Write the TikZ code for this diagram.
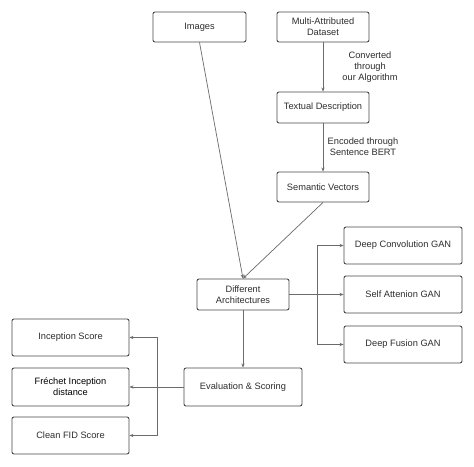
\documentclass[tikz,border=0pt]{standalone}
\usepackage{fontspec}
\setmainfont{Liberation Sans}
\usetikzlibrary{arrows.meta}
\begin{document}
\begin{tikzpicture}[x=1bp,y=-1bp,
 box/.style={draw=black!72, line width=0.9bp, rounded corners=2bp, align=center,
   font=\fontsize{9.3}{11}\selectfont, text=black!82, inner sep=0pt},
 conn/.style={draw=black!58, line width=0.7bp, -{Stealth[length=4bp,width=3.2bp]}},
 lbl/.style={font=\fontsize{9.3}{11}\selectfont, align=center, text=black!82}]
\useasboundingbox (0,0) rectangle (474,467);
\fill[white] (0,0) rectangle (474,467);
% top column
\node[box, minimum width=93bp, minimum height=30bp] (img) at (199.5,27) {Images};
\node[box, minimum width=92bp, minimum height=30bp] (ds) at (323,27) {Multi-Attributed\\Dataset};
\node[box, minimum width=92bp, minimum height=31bp] (txt) at (323,107.5) {Textual Description};
\node[box, minimum width=92bp, minimum height=30bp] (sem) at (323,187) {Semantic Vectors};
\node[box, minimum width=92bp, minimum height=31bp] (da) at (243,294.5) {Different\\Architectures};
% GANs
\node[box, minimum width=118bp, minimum height=37bp] (dc) at (403,245.5) {Deep Convolution GAN};
\node[box, minimum width=118bp, minimum height=37bp] (sa) at (403,294.5) {Self Attenion GAN};
\node[box, minimum width=118bp, minimum height=37bp] (df) at (403,344.5) {Deep Fusion GAN};
% evaluation
\node[box, minimum width=118bp, minimum height=38bp] (ev) at (243,387) {Evaluation \& Scoring};
\node[box, minimum width=117bp, minimum height=37bp] (is) at (70.5,337.5) {Inception Score};
\node[box, minimum width=117bp, minimum height=38bp, text=black] (fid) at (70.5,387) {Fréchet Inception\\distance};
\node[box, minimum width=117bp, minimum height=37bp] (cf) at (70.5,435.5) {Clean FID Score};
% labels
\node[lbl] (l1) at (370,67) {Converted\\through\\our Algorithm};
\node[lbl] (l2) at (363,146.5) {Encoded through\\Sentence BERT};
% connectors
\draw[conn] (ds) -- (txt);
\draw[conn] (txt) -- (sem);
\draw[conn] (img.south) -- (da.north);
\draw[conn] (sem.south) -- (da.north);
\coordinate (rs) at (317,294.5);
\draw[conn] (da.east) -- (sa.west);
\draw[conn] (rs) |- (dc.west);
\draw[conn] (rs) |- (df.west);
\draw[conn] (da.south) -- (ev.north);
\coordinate (ls) at (157,387);
\draw[conn] (ev.west) -- (fid.east);
\draw[conn] (ls) |- (is.east);
\draw[conn] (ls) |- (cf.east);
\end{tikzpicture}
\end{document}
